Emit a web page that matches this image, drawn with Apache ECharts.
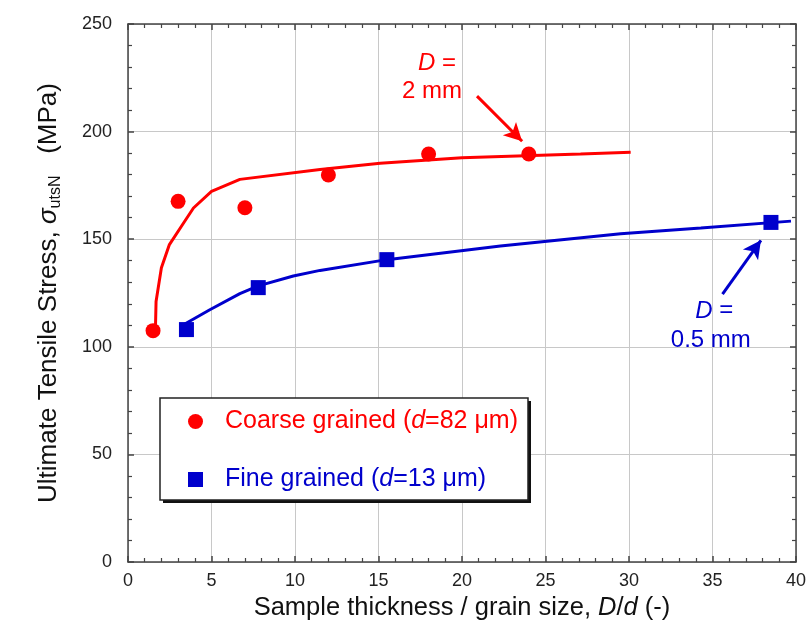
<!DOCTYPE html>
<html>
<head>
<meta charset="utf-8">
<script src="https://cdn.jsdelivr.net/npm/echarts@6/dist/echarts.min.js"></script>
<style>
html,body{margin:0;padding:0;background:#fff}
#chart{width:811px;height:626px}
</style>
</head>
<body>
<div id="chart"></div>
<script>
// measured points
const coarsePts = [[1.5,107.5],[3.0,167.6],[7.0,164.6],[12.0,179.8],[18.0,189.6],[24.0,189.6]]
const finePts = [[3.5,108],[7.8,127.5],[15.5,140.5],[38.5,157.8]]
// fitted curves
const coarseFit = [[1.64,107.5],[1.68,121],[2.0,136.7],[2.48,147.5],[3.2,156],[3.92,164.5],[5.0,172.2],[6.7,177.8],[11.5,182.4],[15.1,185.3],[20,187.8],[27.1,189.6],[30.1,190.4]]
const fineFit = [[3.4,110.6],[4.9,117.2],[6.7,124.7],[7.8,128.3],[9.9,132.9],[11.5,135.5],[15.5,140.5],[22.3,146.8],[29.5,152.5],[34.3,155.2],[39.7,158.4]]

const RED = '#ff0000', BLUE = '#0000cc'
const FONT = 'Liberation Sans, Arial, sans-serif'
const nameCoarse = 'Coarse grained (d=82 μm)'
const nameFine = 'Fine grained (d=13 μm)'

const chart = echarts.init(document.getElementById('chart'))

const frameAxis = {
  axisLine:{show:true,onZero:false,lineStyle:{color:'#444',width:1.5}},
  axisTick:{show:true,inside:true,length:6,lineStyle:{color:'#444',width:1.5}},
  minorTick:{show:true,splitNumber:5,length:4,lineStyle:{color:'#444',width:1.2}}
}

function arrow(from, to, color){
  return {
    type:'line', data:[], silent:true,
    markLine:{silent:true,symbol:['none','arrow'],symbolSize:[14,18],animation:false,
      lineStyle:{color,width:3,type:'solid'},label:{show:false},
      data:[[{coord:from},{coord:to}]]}
  }
}
function note(pt, text, color){
  return {
    type:'scatter', data:[], silent:true,
    markPoint:{silent:true,symbol:'circle',symbolSize:0,animation:false,
      data:[{coord:pt}],
      label:{show:true,position:'inside',formatter:text,color,fontSize:24,fontFamily:FONT,
        rich:{i:{fontStyle:'italic',fontSize:24,color,fontFamily:FONT},n:{fontSize:24,color,fontFamily:FONT}}}}
  }
}

const leg = (c)=>({color:c,fontSize:25,fontFamily:FONT,lineHeight:28})

chart.setOption({
  animation:false,
  textStyle:{fontFamily:FONT},
  grid:{left:128,right:15,top:24,bottom:64},
  graphic:[
    {type:'rect',shape:{x:163,y:401,width:368,height:102},style:{fill:'#111'},z:10},
    {type:'rect',shape:{x:160,y:398,width:368,height:102},style:{fill:'#fff',stroke:'#222',lineWidth:1.5},z:11}
  ],
  xAxis:[{
    type:'value',min:0,max:40,interval:5,...frameAxis,
    splitLine:{show:true,lineStyle:{color:'#c8c8c8',width:1}},
    axisLabel:{color:'#222',fontSize:18,margin:10,fontFamily:FONT},
    name:'{n|Sample thickness / grain size, }{i|D}{n|/}{i|d}{n| (-)}',
    nameLocation:'middle',nameGap:30,
    nameTextStyle:{rich:{n:{fontSize:25.5,color:'#111',fontFamily:FONT},i:{fontSize:25.5,color:'#111',fontStyle:'italic',fontFamily:FONT}}}
  },{
    type:'value',position:'top',min:0,max:40,interval:5,...frameAxis,
    splitLine:{show:false},axisLabel:{show:false}
  }],
  yAxis:[{
    type:'value',min:0,max:250,interval:50,...frameAxis,
    splitLine:{show:true,lineStyle:{color:'#c8c8c8',width:1}},
    axisLabel:{color:'#222',fontSize:18,margin:16,fontFamily:FONT},
    name:'{n|Ultimate Tensile Stress, }{i|σ}{s|utsN}{n|   (MPa)}',
    nameLocation:'middle',nameGap:64,
    nameTextStyle:{rich:{
      n:{fontSize:26,color:'#111',fontFamily:FONT,lineHeight:30},
      i:{fontSize:26,color:'#111',fontStyle:'italic',fontFamily:FONT,lineHeight:30},
      s:{fontSize:16,color:'#111',fontFamily:FONT,verticalAlign:'bottom',padding:[18,0,0,0],lineHeight:16}
    }}
  },{
    type:'value',position:'right',min:0,max:250,interval:50,...frameAxis,
    splitLine:{show:false},axisLabel:{show:false}
  }],
  legend:{
    orient:'vertical',left:188,top:409,padding:0,z:12,
    data:[{name:nameCoarse,icon:'circle'},{name:nameFine,icon:'rect'}],
    itemWidth:15,itemHeight:15,itemGap:33,
    formatter:function(name){
      if(name===nameCoarse) return '{g|}{r|Coarse grained (}{ri|d}{r|=82 μm)}'
      return '{g|}{b|Fine grained (}{bi|d}{b|=13 μm)}'
    },
    textStyle:{fontSize:25,fontFamily:FONT,rich:{
      g:{width:17,lineHeight:28},
      r:leg(RED),
      ri:{...leg(RED),fontStyle:'italic'},
      b:leg(BLUE),
      bi:{...leg(BLUE),fontStyle:'italic'}
    }}
  },
  series:[
    {name:'coarse fit',type:'line',data:coarseFit,showSymbol:false,symbol:'none',lineStyle:{color:RED,width:3},z:2},
    {name:'fine fit',type:'line',data:fineFit,showSymbol:false,symbol:'none',lineStyle:{color:BLUE,width:3},z:2},
    {name:nameCoarse,type:'scatter',data:coarsePts,symbol:'circle',symbolSize:15,itemStyle:{color:RED,opacity:1},z:3},
    {name:nameFine,type:'scatter',data:finePts,symbol:'rect',symbolSize:15,itemStyle:{color:BLUE,opacity:1},z:3},
    arrow([20.9,216.5],[23.6,195.5],RED),
    arrow([35.6,124.5],[37.9,149.5],BLUE),
    note([18.5,231.5],'{i|D}{n| =}',RED),
    note([18.2,218.5],'{n|2 mm}',RED),
    note([35.1,116.7],'{i|D}{n| =}',BLUE),
    note([34.9,102.8],'{n|0.5 mm}',BLUE)
  ]
})
</script>
</body>
</html>
